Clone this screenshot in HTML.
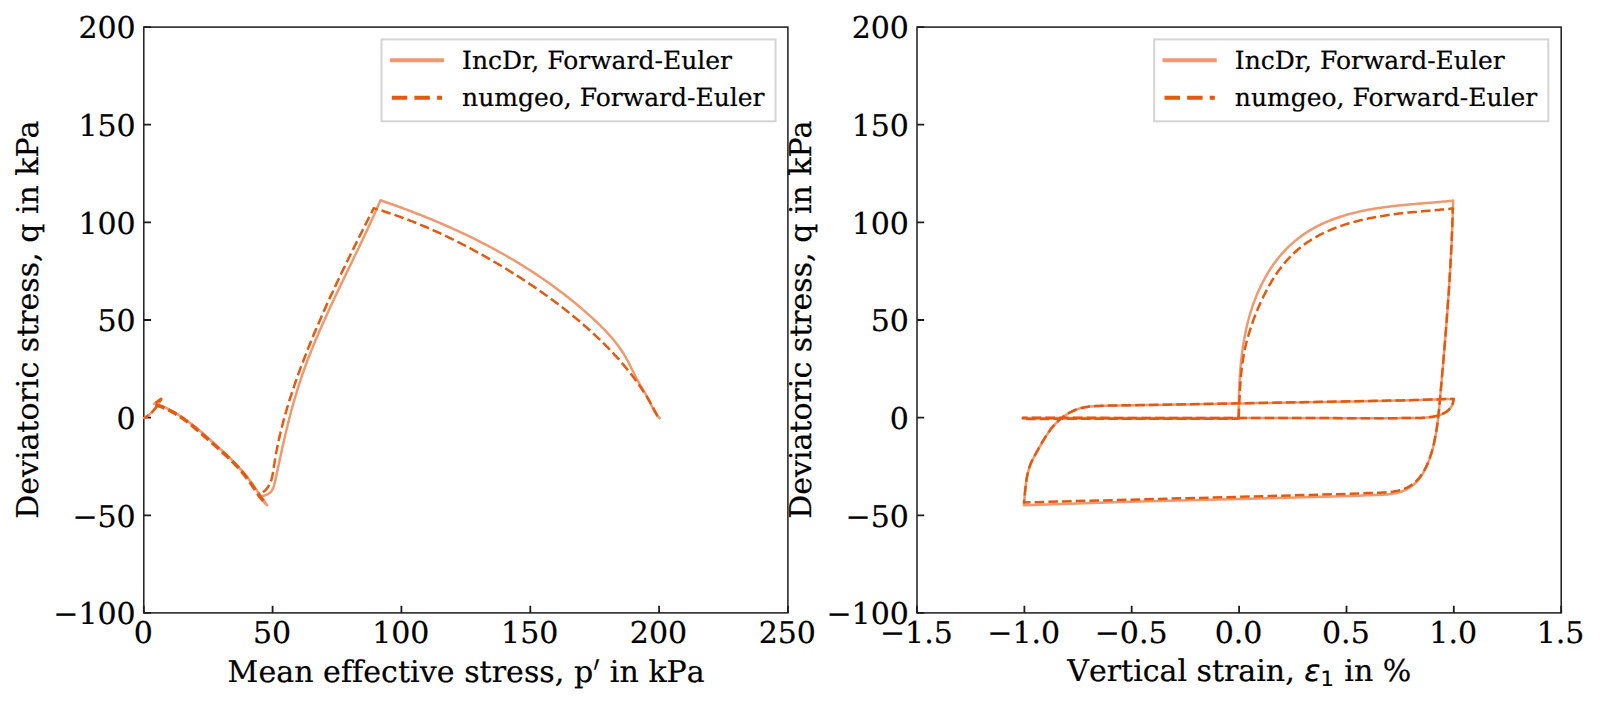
<!DOCTYPE html>
<html lang="en">
<head>
<meta charset="utf-8">
<title>Deviatoric stress plots</title>
<style>
html,body{margin:0;padding:0;background:#fff;}
body{width:1600px;height:705px;overflow:hidden;}
svg{display:block;}
text{stroke:#000;stroke-width:0.22px;font-kerning:normal;font-variant-ligatures:none;text-rendering:geometricPrecision;}
.nk{font-kerning:none;}
</style>
</head>
<body>
<svg width="1600" height="705" viewBox="0 0 1600 705" font-family="'DejaVu Serif','Liberation Serif',serif" font-size="30.0" fill="#000">
<rect width="1600" height="705" fill="#fff"/>
<rect x="143.8" y="27.1" width="644.1" height="585.8" fill="#fff" stroke="#1c1c1c" stroke-width="1.5"/>
<path d="M143.8 612.9v-7.2M272.6 612.9v-7.2M401.4 612.9v-7.2M530.3 612.9v-7.2M659.1 612.9v-7.2M787.9 612.9v-7.2M143.8 612.9h7.2M143.8 515.3h7.2M143.8 417.6h7.2M143.8 320.0h7.2M143.8 222.4h7.2M143.8 124.7h7.2M143.8 27.1h7.2" stroke="#1c1c1c" stroke-width="1.8" fill="none"/>
<text x="143.2" y="643.3" text-anchor="middle">0</text>
<text x="272.0" y="643.3" text-anchor="middle">50</text>
<text x="400.8" y="643.3" text-anchor="middle">100</text>
<text x="529.7" y="643.3" text-anchor="middle">150</text>
<text x="658.5" y="643.3" text-anchor="middle">200</text>
<text x="787.3" y="643.3" text-anchor="middle">250</text>
<text x="135.7" y="624.2" text-anchor="end">−100</text>
<text x="135.7" y="526.6" text-anchor="end">−50</text>
<text x="135.7" y="428.9" text-anchor="end">0</text>
<text x="135.7" y="331.3" text-anchor="end">50</text>
<text x="135.7" y="233.7" text-anchor="end">100</text>
<text x="135.7" y="136.0" text-anchor="end">150</text>
<text x="135.7" y="38.4" text-anchor="end">200</text>
<path d="M659.5 418.0 L658.4 417.0 L657.4 415.8 L656.5 414.7 L655.7 413.4 L654.9 412.2 L654.2 410.9 L653.5 409.5 L652.8 408.2 L652.1 406.8 L651.5 405.4 L650.9 404.1 L650.2 402.7 L649.6 401.3 L648.9 400.0 L648.2 398.6 L647.4 397.3 L646.7 396.0 L646.0 394.7 L645.2 393.4 L644.4 392.1 L643.7 390.8 L642.9 389.5 L642.1 388.2 L641.4 387.0 L640.6 385.7 L639.8 384.4 L639.1 383.0 L638.4 381.7 L637.6 380.4 L636.9 379.1 L636.2 377.7 L635.5 376.4 L634.8 375.0 L634.2 373.7 L633.5 372.3 L632.8 370.9 L632.1 369.6 L631.4 368.2 L630.8 366.8 L630.1 365.5 L629.4 364.1 L628.7 362.8 L628.0 361.4 L627.2 360.1 L626.5 358.8 L625.8 357.4 L625.0 356.1 L624.2 354.8 L623.5 353.5 L622.7 352.3 L621.8 351.0 L621.0 349.7 L620.1 348.5 L619.3 347.3 L618.4 346.1 L617.5 344.9 L616.6 343.7 L615.7 342.5 L614.7 341.3 L613.8 340.1 L612.8 339.0 L611.8 337.8 L610.8 336.7 L609.8 335.6 L608.8 334.4 L607.8 333.3 L606.8 332.2 L605.8 331.1 L604.7 330.0 L603.7 328.9 L602.6 327.9 L601.5 326.8 L600.5 325.7 L599.4 324.7 L598.3 323.6 L597.2 322.6 L596.1 321.5 L595.0 320.5 L593.9 319.5 L592.8 318.4 L591.7 317.4 L590.5 316.4 L589.4 315.4 L588.3 314.4 L587.2 313.4 L586.0 312.4 L584.9 311.4 L583.8 310.4 L582.6 309.4 L581.5 308.4 L580.3 307.4 L579.2 306.4 L578.0 305.5 L576.9 304.5 L575.7 303.5 L574.5 302.6 L573.4 301.6 L572.2 300.7 L571.0 299.7 L569.8 298.8 L568.7 297.8 L567.5 296.9 L566.3 296.0 L565.1 295.0 L563.9 294.1 L562.7 293.2 L561.5 292.3 L560.3 291.4 L559.1 290.5 L557.9 289.6 L556.7 288.7 L555.5 287.8 L554.3 286.9 L553.0 286.0 L551.8 285.1 L550.6 284.2 L549.4 283.3 L548.1 282.5 L546.9 281.6 L545.7 280.7 L544.4 279.9 L543.2 279.0 L542.0 278.2 L540.7 277.3 L539.5 276.5 L538.2 275.6 L537.0 274.8 L535.7 273.9 L534.4 273.1 L533.2 272.3 L531.9 271.5 L530.6 270.6 L529.4 269.8 L528.1 269.0 L526.8 268.2 L525.5 267.4 L524.3 266.6 L523.0 265.8 L521.7 265.0 L520.4 264.2 L519.1 263.4 L517.8 262.6 L516.5 261.8 L515.2 261.1 L514.0 260.3 L512.7 259.5 L511.3 258.8 L510.0 258.0 L508.7 257.2 L507.4 256.5 L506.1 255.7 L504.8 255.0 L503.5 254.2 L502.2 253.5 L500.9 252.8 L499.5 252.0 L498.2 251.3 L496.9 250.6 L495.6 249.8 L494.2 249.1 L492.9 248.4 L491.6 247.7 L490.2 247.0 L488.9 246.3 L487.6 245.5 L486.2 244.8 L484.9 244.1 L483.5 243.5 L482.2 242.8 L480.8 242.1 L479.5 241.4 L478.1 240.7 L476.8 240.0 L475.4 239.3 L474.1 238.7 L472.7 238.0 L471.4 237.3 L470.0 236.7 L468.6 236.0 L467.3 235.4 L465.9 234.7 L464.5 234.1 L463.2 233.4 L461.8 232.8 L460.4 232.1 L459.1 231.5 L457.7 230.8 L456.3 230.2 L454.9 229.6 L453.5 229.0 L452.2 228.3 L450.8 227.7 L449.4 227.1 L448.0 226.5 L446.6 225.9 L445.3 225.3 L443.9 224.7 L442.5 224.1 L441.1 223.5 L439.7 222.9 L438.3 222.3 L436.9 221.7 L435.5 221.1 L434.1 220.5 L432.7 219.9 L431.3 219.3 L429.9 218.8 L428.5 218.2 L427.1 217.6 L425.7 217.1 L424.3 216.5 L422.9 215.9 L421.5 215.4 L420.1 214.8 L418.7 214.3 L417.3 213.7 L415.9 213.2 L414.5 212.6 L413.1 212.1 L411.7 211.5 L410.3 211.0 L408.8 210.5 L407.4 209.9 L406.0 209.4 L404.6 208.9 L403.2 208.3 L401.8 207.8 L400.4 207.3 L398.9 206.8 L397.5 206.3 L396.1 205.8 L394.7 205.3 L393.3 204.7 L391.9 204.2 L390.4 203.7 L389.0 203.2 L387.6 202.7 L386.2 202.3 L384.8 201.8 L383.3 201.3 L381.9 200.8 L380.5 200.3 L379.9 201.7 L379.3 203.1 L378.7 204.4 L378.1 205.8 L377.5 207.2 L376.9 208.6 L376.3 210.0 L375.7 211.3 L375.1 212.7 L374.4 214.1 L373.8 215.5 L373.2 216.8 L372.6 218.2 L372.0 219.6 L371.3 220.9 L370.7 222.3 L370.1 223.7 L369.4 225.0 L368.8 226.4 L368.2 227.8 L367.5 229.2 L366.9 230.5 L366.3 231.9 L365.6 233.3 L365.0 234.6 L364.3 236.0 L363.7 237.4 L363.0 238.7 L362.4 240.1 L361.7 241.4 L361.1 242.8 L360.4 244.2 L359.8 245.5 L359.1 246.9 L358.5 248.3 L357.8 249.6 L357.2 251.0 L356.5 252.4 L355.9 253.7 L355.2 255.1 L354.5 256.4 L353.9 257.8 L353.2 259.2 L352.6 260.5 L351.9 261.9 L351.3 263.2 L350.6 264.6 L349.9 266.0 L349.3 267.3 L348.6 268.7 L348.0 270.1 L347.3 271.4 L346.6 272.8 L346.0 274.1 L345.3 275.5 L344.7 276.9 L344.0 278.2 L343.4 279.6 L342.7 281.0 L342.0 282.3 L341.4 283.7 L340.7 285.0 L340.1 286.4 L339.4 287.8 L338.8 289.1 L338.1 290.5 L337.5 291.9 L336.8 293.2 L336.2 294.6 L335.5 296.0 L334.9 297.3 L334.2 298.7 L333.6 300.1 L332.9 301.4 L332.3 302.8 L331.7 304.2 L331.0 305.5 L330.4 306.9 L329.8 308.3 L329.1 309.7 L328.5 311.0 L327.9 312.4 L327.2 313.8 L326.6 315.2 L326.0 316.5 L325.4 317.9 L324.7 319.3 L324.1 320.7 L323.5 322.0 L322.9 323.4 L322.3 324.8 L321.7 326.2 L321.1 327.6 L320.4 328.9 L319.8 330.3 L319.2 331.7 L318.6 333.1 L318.1 334.5 L317.5 335.9 L316.9 337.3 L316.3 338.6 L315.7 340.0 L315.1 341.4 L314.5 342.8 L314.0 344.2 L313.4 345.6 L312.8 347.0 L312.3 348.4 L311.7 349.8 L311.1 351.2 L310.6 352.6 L310.0 354.0 L309.5 355.4 L308.9 356.8 L308.4 358.2 L307.9 359.6 L307.3 361.0 L306.8 362.4 L306.3 363.8 L305.7 365.2 L305.2 366.7 L304.7 368.1 L304.2 369.5 L303.7 370.9 L303.2 372.3 L302.7 373.7 L302.2 375.2 L301.7 376.6 L301.2 378.0 L300.7 379.4 L300.3 380.9 L299.8 382.3 L299.3 383.7 L298.8 385.2 L298.4 386.6 L297.9 388.0 L297.5 389.5 L297.0 390.9 L296.6 392.3 L296.2 393.8 L295.7 395.2 L295.3 396.7 L294.9 398.1 L294.4 399.6 L294.0 401.0 L293.6 402.5 L293.2 403.9 L292.8 405.4 L292.4 406.8 L292.0 408.3 L291.6 409.7 L291.2 411.2 L290.8 412.7 L290.4 414.1 L290.1 415.6 L289.7 417.0 L289.3 418.5 L288.9 420.0 L288.6 421.4 L288.2 422.9 L287.8 424.4 L287.5 425.8 L287.1 427.3 L286.8 428.8 L286.4 430.2 L286.0 431.7 L285.7 433.2 L285.3 434.7 L285.0 436.1 L284.7 437.6 L284.3 439.1 L284.0 440.6 L283.6 442.0 L283.3 443.5 L283.0 445.0 L282.6 446.5 L282.3 447.9 L282.0 449.4 L281.7 450.9 L281.3 452.4 L281.0 453.9 L280.7 455.3 L280.4 456.8 L280.0 458.3 L279.7 459.8 L279.4 461.3 L279.1 462.7 L278.8 464.2 L278.4 465.7 L278.1 467.2 L277.8 468.7 L277.5 470.2 L277.2 471.6 L276.9 473.1 L276.6 474.6 L276.2 476.1 L275.9 477.6 L275.6 479.1 L275.3 480.5 L275.0 482.0 L274.6 483.5 L274.3 484.9 L273.8 486.3 L273.3 487.7 L272.8 488.9 L272.1 490.2 L271.3 491.3 L270.3 492.3 L269.3 493.3 L268.0 494.1 L266.6 494.8 L265.1 495.3 L263.4 495.7 L261.6 496.0 L261.9 497.5 L262.3 499.0 L263.0 500.4 L263.8 501.7 L264.7 503.0 L265.9 504.1 L267.2 505.2 L266.3 504.0 L265.4 502.7 L264.5 501.5 L263.6 500.3 L262.7 499.0 L261.9 497.8 L261.0 496.5 L260.1 495.2 L259.3 494.0 L258.4 492.7 L257.5 491.4 L256.7 490.1 L255.8 488.9 L254.9 487.6 L254.1 486.4 L253.2 485.1 L252.3 483.9 L251.4 482.6 L250.5 481.4 L249.6 480.2 L248.7 478.9 L247.7 477.7 L246.8 476.5 L245.9 475.4 L244.9 474.2 L243.9 473.0 L242.9 471.9 L241.9 470.7 L240.9 469.6 L239.9 468.5 L238.9 467.4 L237.9 466.2 L236.8 465.1 L235.8 464.0 L234.7 463.0 L233.7 461.9 L232.6 460.8 L231.5 459.7 L230.4 458.7 L229.3 457.6 L228.2 456.5 L227.2 455.5 L226.0 454.4 L224.9 453.4 L223.8 452.3 L222.7 451.3 L221.6 450.2 L220.5 449.2 L219.4 448.1 L218.2 447.1 L217.1 446.1 L216.0 445.0 L214.8 444.0 L213.7 442.9 L212.6 441.9 L211.4 440.9 L210.3 439.8 L209.1 438.8 L208.0 437.8 L206.8 436.8 L205.7 435.8 L204.5 434.7 L203.3 433.7 L202.2 432.7 L201.0 431.7 L199.8 430.7 L198.6 429.8 L197.5 428.8 L196.3 427.8 L195.1 426.8 L193.9 425.9 L192.7 424.9 L191.5 424.0 L190.2 423.1 L189.0 422.2 L187.8 421.2 L186.6 420.3 L185.3 419.5 L184.1 418.6 L182.8 417.7 L181.6 416.8 L180.3 416.0 L179.0 415.2 L177.7 414.4 L176.5 413.5 L175.2 412.8 L173.9 412.0 L172.6 411.2 L171.2 410.5 L169.9 409.8 L168.6 409.1 L167.2 408.4 L165.8 407.7 L164.5 407.1 L163.1 406.5 L161.7 406.0 L160.2 405.5 L158.8 405.0 L157.3 404.6 L155.9 404.2 L154.3 403.8 L161.4 398.6 L160.7 400.1 L159.9 401.5 L159.1 402.9 L158.2 404.3 L157.3 405.7 L156.4 407.0 L155.4 408.3 L154.3 409.6 L153.2 410.8 L152.1 412.0 L150.9 413.1 L149.7 414.2 L148.4 415.2 L147.1 416.2 L145.7 417.1 L144.3 417.9" fill="none" stroke="#ee996f" stroke-width="2.5" stroke-linejoin="round" stroke-linecap="square"/>
<path d="M657.5 416.2 L656.8 414.8 L656.2 413.5 L655.5 412.1 L654.8 410.8 L654.1 409.5 L653.4 408.1 L652.6 406.8 L651.9 405.5 L651.2 404.2 L650.4 402.9 L649.7 401.6 L648.9 400.3 L648.1 399.0 L647.4 397.7 L646.6 396.4 L645.8 395.1 L645.0 393.9 L644.2 392.6 L643.3 391.4 L642.5 390.1 L641.7 388.8 L640.9 387.6 L640.0 386.4 L639.2 385.1 L638.3 383.9 L637.4 382.7 L636.5 381.5 L635.7 380.2 L634.8 379.0 L633.9 377.8 L633.0 376.6 L632.1 375.4 L631.2 374.3 L630.2 373.1 L629.3 371.9 L628.4 370.7 L627.4 369.6 L626.5 368.4 L625.5 367.2 L624.6 366.1 L623.6 364.9 L622.6 363.8 L621.6 362.6 L620.7 361.5 L619.7 360.4 L618.7 359.2 L617.7 358.1 L616.7 357.0 L615.7 355.9 L614.6 354.8 L613.6 353.7 L612.6 352.6 L611.6 351.5 L610.5 350.4 L609.5 349.3 L608.4 348.2 L607.4 347.1 L606.3 346.1 L605.3 345.0 L604.2 343.9 L603.1 342.9 L602.1 341.8 L601.0 340.8 L599.9 339.7 L598.8 338.7 L597.7 337.6 L596.6 336.6 L595.5 335.6 L594.4 334.5 L593.3 333.5 L592.2 332.5 L591.1 331.5 L590.0 330.5 L588.9 329.5 L587.7 328.5 L586.6 327.4 L585.5 326.5 L584.3 325.5 L583.2 324.5 L582.0 323.5 L580.9 322.5 L579.8 321.5 L578.6 320.5 L577.4 319.6 L576.3 318.6 L575.1 317.6 L574.0 316.7 L572.8 315.7 L571.6 314.8 L570.5 313.8 L569.3 312.9 L568.1 311.9 L566.9 311.0 L565.7 310.1 L564.6 309.1 L563.4 308.2 L562.2 307.3 L561.0 306.3 L559.8 305.4 L558.6 304.5 L557.4 303.6 L556.2 302.7 L555.0 301.8 L553.8 300.9 L552.6 300.0 L551.3 299.1 L550.1 298.2 L548.9 297.3 L547.7 296.4 L546.5 295.5 L545.2 294.7 L544.0 293.8 L542.8 292.9 L541.5 292.0 L540.3 291.2 L539.1 290.3 L537.8 289.5 L536.6 288.6 L535.3 287.7 L534.1 286.9 L532.8 286.0 L531.6 285.2 L530.3 284.4 L529.1 283.5 L527.8 282.7 L526.6 281.8 L525.3 281.0 L524.1 280.2 L522.8 279.4 L521.5 278.5 L520.3 277.7 L519.0 276.9 L517.7 276.1 L516.4 275.3 L515.2 274.5 L513.9 273.7 L512.6 272.9 L511.3 272.1 L510.0 271.3 L508.8 270.5 L507.5 269.7 L506.2 268.9 L504.9 268.1 L503.6 267.3 L502.3 266.6 L501.0 265.8 L499.7 265.0 L498.4 264.2 L497.1 263.5 L495.8 262.7 L494.5 262.0 L493.2 261.2 L491.9 260.4 L490.6 259.7 L489.3 258.9 L488.0 258.2 L486.7 257.4 L485.4 256.7 L484.1 255.9 L482.8 255.2 L481.5 254.5 L480.1 253.7 L478.8 253.0 L477.5 252.3 L476.2 251.6 L474.9 250.8 L473.5 250.1 L472.2 249.4 L470.9 248.7 L469.6 248.0 L468.2 247.3 L466.9 246.6 L465.6 245.9 L464.2 245.2 L462.9 244.5 L461.6 243.8 L460.2 243.1 L458.9 242.4 L457.5 241.8 L456.2 241.1 L454.8 240.4 L453.5 239.7 L452.1 239.1 L450.8 238.4 L449.4 237.8 L448.1 237.1 L446.7 236.4 L445.4 235.8 L444.0 235.2 L442.6 234.5 L441.3 233.9 L439.9 233.2 L438.6 232.6 L437.2 232.0 L435.8 231.4 L434.4 230.8 L433.1 230.1 L431.7 229.5 L430.3 228.9 L428.9 228.3 L427.6 227.7 L426.2 227.1 L424.8 226.5 L423.4 226.0 L422.0 225.4 L420.6 224.8 L419.2 224.2 L417.8 223.7 L416.5 223.1 L415.1 222.5 L413.7 222.0 L412.3 221.4 L410.9 220.9 L409.4 220.3 L408.0 219.8 L406.6 219.2 L405.2 218.7 L403.8 218.2 L402.4 217.7 L401.0 217.2 L399.6 216.6 L398.1 216.1 L396.7 215.6 L395.3 215.1 L393.9 214.6 L392.4 214.1 L391.0 213.7 L389.6 213.2 L388.1 212.7 L386.7 212.2 L385.3 211.8 L383.8 211.3 L382.4 210.8 L381.0 210.4 L379.5 209.9 L378.1 209.5 L376.6 209.1 L375.2 208.6 L373.7 208.2 L373.0 209.5 L372.3 210.9 L371.7 212.2 L371.0 213.6 L370.3 214.9 L369.6 216.3 L368.9 217.6 L368.3 218.9 L367.6 220.3 L366.9 221.6 L366.2 223.0 L365.5 224.3 L364.9 225.7 L364.2 227.0 L363.5 228.4 L362.8 229.7 L362.2 231.1 L361.5 232.4 L360.8 233.8 L360.1 235.1 L359.4 236.5 L358.8 237.8 L358.1 239.2 L357.4 240.5 L356.8 241.9 L356.1 243.2 L355.4 244.6 L354.7 245.9 L354.1 247.3 L353.4 248.6 L352.7 250.0 L352.1 251.3 L351.4 252.7 L350.7 254.1 L350.1 255.4 L349.4 256.8 L348.7 258.1 L348.1 259.5 L347.4 260.8 L346.7 262.2 L346.1 263.6 L345.4 264.9 L344.8 266.3 L344.1 267.6 L343.4 269.0 L342.8 270.4 L342.1 271.7 L341.5 273.1 L340.8 274.5 L340.2 275.8 L339.5 277.2 L338.9 278.6 L338.2 279.9 L337.6 281.3 L336.9 282.7 L336.3 284.0 L335.7 285.4 L335.0 286.8 L334.4 288.1 L333.7 289.5 L333.1 290.9 L332.5 292.2 L331.8 293.6 L331.2 295.0 L330.6 296.4 L329.9 297.7 L329.3 299.1 L328.7 300.5 L328.0 301.9 L327.4 303.2 L326.8 304.6 L326.2 306.0 L325.6 307.4 L324.9 308.7 L324.3 310.1 L323.7 311.5 L323.1 312.9 L322.5 314.3 L321.9 315.7 L321.3 317.0 L320.7 318.4 L320.1 319.8 L319.5 321.2 L318.9 322.6 L318.3 324.0 L317.7 325.4 L317.1 326.7 L316.5 328.1 L315.9 329.5 L315.3 330.9 L314.7 332.3 L314.1 333.7 L313.6 335.1 L313.0 336.5 L312.4 337.9 L311.8 339.3 L311.3 340.7 L310.7 342.1 L310.1 343.5 L309.6 344.9 L309.0 346.3 L308.4 347.7 L307.9 349.1 L307.3 350.5 L306.8 351.9 L306.2 353.3 L305.7 354.7 L305.1 356.1 L304.6 357.5 L304.0 358.9 L303.5 360.3 L303.0 361.7 L302.4 363.1 L301.9 364.5 L301.4 365.9 L300.8 367.3 L300.3 368.7 L299.8 370.2 L299.3 371.6 L298.7 373.0 L298.2 374.4 L297.7 375.8 L297.2 377.2 L296.7 378.7 L296.2 380.1 L295.7 381.5 L295.2 382.9 L294.7 384.3 L294.2 385.8 L293.8 387.2 L293.3 388.6 L292.8 390.0 L292.3 391.5 L291.8 392.9 L291.4 394.3 L290.9 395.8 L290.5 397.2 L290.0 398.6 L289.5 400.1 L289.1 401.5 L288.7 403.0 L288.2 404.4 L287.8 405.8 L287.3 407.3 L286.9 408.7 L286.5 410.2 L286.1 411.6 L285.6 413.1 L285.2 414.5 L284.8 416.0 L284.4 417.4 L284.0 418.9 L283.6 420.3 L283.2 421.8 L282.9 423.3 L282.5 424.7 L282.1 426.2 L281.7 427.6 L281.4 429.1 L281.0 430.6 L280.6 432.0 L280.3 433.5 L279.9 435.0 L279.6 436.5 L279.3 437.9 L278.9 439.4 L278.6 440.9 L278.3 442.4 L278.0 443.9 L277.7 445.4 L277.3 446.9 L277.0 448.4 L276.8 449.8 L276.5 451.3 L276.2 452.8 L275.9 454.3 L275.6 455.8 L275.4 457.3 L275.1 458.9 L274.9 460.4 L274.6 461.9 L274.4 463.4 L274.1 464.9 L273.9 466.4 L273.7 467.9 L273.5 469.5 L273.2 471.0 L273.0 472.5 L272.7 474.0 L272.4 475.4 L272.1 476.9 L271.8 478.3 L271.4 479.7 L270.9 481.1 L270.4 482.4 L269.9 483.8 L269.2 485.0 L268.5 486.2 L267.8 487.4 L266.9 488.5 L266.0 489.6 L264.9 490.6 L263.8 491.5 L262.5 492.3 L261.1 493.1 L259.6 493.7 L258.0 494.3" fill="none" stroke="#e15a10" stroke-width="2.5" stroke-linejoin="round" stroke-dasharray="9.6 4.1" stroke-dashoffset="0.0"/>
<path d="M258.0 494.3 L264.6 502.6 L263.7 501.4 L262.8 500.2 L261.8 499.0 L260.9 497.8 L260.1 496.5 L259.2 495.3 L258.3 494.1 L257.4 492.8 L256.5 491.6 L255.7 490.3 L254.8 489.1 L253.9 487.8 L253.0 486.6 L252.2 485.3 L251.3 484.1 L250.4 482.8 L249.5 481.6 L248.6 480.3 L247.7 479.1 L246.8 477.9 L245.9 476.7 L244.9 475.5 L244.0 474.3 L243.0 473.1 L242.1 471.9 L241.1 470.8 L240.1 469.7 L239.1 468.5 L238.1 467.4 L237.1 466.3 L236.0 465.2 L235.0 464.1 L233.9 463.0 L232.9 462.0 L231.8 460.9 L230.7 459.8 L229.7 458.8 L228.6 457.7 L227.5 456.7 L226.4 455.7 L225.2 454.6 L224.1 453.6 L223.0 452.6 L221.9 451.6 L220.8 450.6 L219.6 449.6 L218.5 448.5 L217.3 447.5 L216.2 446.5 L215.1 445.5 L213.9 444.5 L212.8 443.5 L211.6 442.5 L210.5 441.5 L209.3 440.5 L208.2 439.5 L207.0 438.4 L205.9 437.4 L204.7 436.4 L203.6 435.4 L202.4 434.4 L201.2 433.3 L200.1 432.3 L198.9 431.3 L197.8 430.3 L196.6 429.3 L195.4 428.3 L194.2 427.3 L193.1 426.4 L191.9 425.4 L190.7 424.4 L189.5 423.5 L188.3 422.5 L187.1 421.6 L185.9 420.7 L184.7 419.8 L183.4 418.9 L182.2 418.0 L180.9 417.2 L179.7 416.3 L178.4 415.5 L177.2 414.7 L175.9 413.9 L174.6 413.1 L173.3 412.4 L172.0 411.7 L170.6 410.9 L169.3 410.3 L168.0 409.6 L166.6 409.0 L165.2 408.4 L163.8 407.8 L162.4 407.2 L161.0 406.7 L159.6 406.2 L158.2 405.7 L156.7 405.2 L155.2 404.8 L153.8 404.4" fill="none" stroke="#e15a10" stroke-width="3.5" stroke-linejoin="round" stroke-dasharray="9.6 4.1" stroke-dashoffset="672.3"/>
<path d="M153.8 404.4 L161.0 399.0 L160.3 400.4 L159.5 401.9 L158.8 403.2 L157.9 404.6 L157.0 406.0 L156.1 407.3 L155.1 408.6 L154.1 409.8 L153.1 411.0 L152.0 412.1 L150.8 413.2 L149.6 414.3 L148.4 415.3 L147.1 416.2 L145.7 417.1 L144.3 417.9" fill="none" stroke="#e15a10" stroke-width="2.5" stroke-linejoin="round" stroke-dasharray="9.6 4.1" stroke-dashoffset="833.4"/>
<rect x="381.5" y="39.4" width="394.1" height="81.9" fill="#fff" fill-opacity="0.8" stroke="#d4d4d4" stroke-width="2"/>
<path d="M391.8 60.3H442.1" stroke="#ee996f" stroke-width="3.9" stroke-linecap="square" fill="none"/>
<path d="M391.8 97.8H442.1" stroke="#e15a10" stroke-width="3.9" stroke-dasharray="15.5 7.1" fill="none"/>
<text x="462.1" y="69.2" font-size="25.00">IncDr, Forward-Euler</text>
<text x="462.1" y="106.4" font-size="25.00">numgeo, Forward-Euler</text>
<text x="593.3" y="682.2" text-anchor="end" class="nk" letter-spacing="0.06">Mean effective stress, p</text>
<text transform="translate(592.4 692.6) scale(0.9 1.5)" font-family="'DejaVu Math TeX Gyre','DejaVu Serif','Liberation Serif',serif" x="0" y="0">′</text>
<text x="609.75" y="682.2" class="nk" letter-spacing="0.06">in kPa</text>
<text transform="translate(38.2 319.8) rotate(-90)" text-anchor="middle">Deviatoric stress, q in kPa</text>
<rect x="917.0" y="27.1" width="644.2" height="585.8" fill="#fff" stroke="#1c1c1c" stroke-width="1.5"/>
<path d="M917.0 612.9v-7.2M1024.4 612.9v-7.2M1131.7 612.9v-7.2M1239.1 612.9v-7.2M1346.5 612.9v-7.2M1453.8 612.9v-7.2M1561.2 612.9v-7.2M917.0 612.9h7.2M917.0 515.3h7.2M917.0 417.6h7.2M917.0 320.0h7.2M917.0 222.4h7.2M917.0 124.7h7.2M917.0 27.1h7.2" stroke="#1c1c1c" stroke-width="1.8" fill="none"/>
<text x="916.4" y="643.3" text-anchor="middle">−1.5</text>
<text x="1023.8" y="643.3" text-anchor="middle">−1.0</text>
<text x="1131.1" y="643.3" text-anchor="middle">−0.5</text>
<text x="1238.5" y="643.3" text-anchor="middle">0.0</text>
<text x="1345.9" y="643.3" text-anchor="middle">0.5</text>
<text x="1453.2" y="643.3" text-anchor="middle">1.0</text>
<text x="1560.6" y="643.3" text-anchor="middle">1.5</text>
<text x="908.9" y="624.2" text-anchor="end">−100</text>
<text x="908.9" y="526.6" text-anchor="end">−50</text>
<text x="908.9" y="428.9" text-anchor="end">0</text>
<text x="908.9" y="331.3" text-anchor="end">50</text>
<text x="908.9" y="233.7" text-anchor="end">100</text>
<text x="908.9" y="136.0" text-anchor="end">150</text>
<text x="908.9" y="38.4" text-anchor="end">200</text>
<path d="M1238.6 418.2 L1238.6 416.7 L1238.6 415.2 L1238.6 413.7 L1238.7 412.2 L1238.7 410.7 L1238.7 409.2 L1238.7 407.7 L1238.7 406.2 L1238.8 404.7 L1238.8 403.2 L1238.8 401.7 L1238.9 400.1 L1238.9 398.6 L1238.9 397.1 L1239.0 395.6 L1239.0 394.1 L1239.1 392.6 L1239.1 391.1 L1239.2 389.6 L1239.2 388.1 L1239.3 386.5 L1239.4 385.0 L1239.4 383.5 L1239.5 382.0 L1239.6 380.5 L1239.7 379.0 L1239.8 377.5 L1239.9 375.9 L1240.0 374.4 L1240.1 372.9 L1240.2 371.4 L1240.3 369.9 L1240.4 368.4 L1240.6 366.9 L1240.7 365.4 L1240.8 363.9 L1241.0 362.4 L1241.1 360.8 L1241.3 359.3 L1241.5 357.8 L1241.7 356.3 L1241.8 354.8 L1242.0 353.3 L1242.2 351.8 L1242.4 350.3 L1242.6 348.8 L1242.8 347.3 L1243.1 345.8 L1243.3 344.3 L1243.5 342.9 L1243.8 341.4 L1244.0 339.9 L1244.3 338.4 L1244.6 336.9 L1244.9 335.4 L1245.2 333.9 L1245.5 332.5 L1245.8 331.0 L1246.1 329.5 L1246.4 328.0 L1246.7 326.6 L1247.1 325.1 L1247.4 323.6 L1247.8 322.2 L1248.2 320.7 L1248.6 319.2 L1249.0 317.8 L1249.4 316.3 L1249.8 314.9 L1250.2 313.4 L1250.7 312.0 L1251.1 310.6 L1251.6 309.1 L1252.0 307.7 L1252.5 306.2 L1253.0 304.8 L1253.5 303.4 L1254.0 302.0 L1254.6 300.5 L1255.1 299.1 L1255.7 297.7 L1256.2 296.3 L1256.8 294.9 L1257.4 293.5 L1258.0 292.1 L1258.6 290.7 L1259.2 289.3 L1259.9 288.0 L1260.5 286.6 L1261.2 285.2 L1261.9 283.8 L1262.6 282.5 L1263.3 281.1 L1264.0 279.8 L1264.7 278.5 L1265.4 277.1 L1266.2 275.8 L1267.0 274.5 L1267.7 273.2 L1268.5 271.9 L1269.3 270.6 L1270.1 269.3 L1271.0 268.1 L1271.8 266.8 L1272.7 265.6 L1273.5 264.3 L1274.4 263.1 L1275.3 261.9 L1276.2 260.7 L1277.1 259.5 L1278.1 258.3 L1279.0 257.1 L1280.0 256.0 L1281.0 254.8 L1281.9 253.7 L1282.9 252.6 L1284.0 251.5 L1285.0 250.4 L1286.0 249.3 L1287.1 248.2 L1288.2 247.2 L1289.2 246.1 L1290.3 245.1 L1291.4 244.1 L1292.6 243.1 L1293.7 242.1 L1294.8 241.1 L1296.0 240.2 L1297.2 239.2 L1298.3 238.3 L1299.5 237.4 L1300.7 236.5 L1301.9 235.6 L1303.2 234.7 L1304.4 233.9 L1305.7 233.0 L1306.9 232.2 L1308.2 231.4 L1309.5 230.6 L1310.8 229.9 L1312.0 229.1 L1313.4 228.4 L1314.7 227.6 L1316.0 226.9 L1317.3 226.2 L1318.7 225.5 L1320.0 224.9 L1321.4 224.2 L1322.7 223.6 L1324.1 223.0 L1325.5 222.3 L1326.9 221.8 L1328.3 221.2 L1329.7 220.6 L1331.1 220.0 L1332.5 219.5 L1333.9 219.0 L1335.3 218.5 L1336.7 217.9 L1338.2 217.5 L1339.6 217.0 L1341.0 216.5 L1342.5 216.1 L1343.9 215.6 L1345.4 215.2 L1346.8 214.8 L1348.3 214.3 L1349.7 213.9 L1351.2 213.6 L1352.7 213.2 L1354.1 212.8 L1355.6 212.5 L1357.1 212.1 L1358.5 211.8 L1360.0 211.4 L1361.5 211.1 L1363.0 210.8 L1364.5 210.5 L1366.0 210.2 L1367.4 209.9 L1368.9 209.6 L1370.4 209.4 L1371.9 209.1 L1373.4 208.9 L1374.9 208.6 L1376.4 208.4 L1377.9 208.1 L1379.4 207.9 L1380.9 207.7 L1382.4 207.5 L1383.9 207.3 L1385.4 207.1 L1387.0 206.9 L1388.5 206.7 L1390.0 206.5 L1391.5 206.3 L1393.0 206.1 L1394.5 206.0 L1396.0 205.8 L1397.5 205.6 L1399.1 205.5 L1400.6 205.3 L1402.1 205.2 L1403.6 205.0 L1405.1 204.9 L1406.6 204.7 L1408.2 204.6 L1409.7 204.5 L1411.2 204.3 L1412.7 204.2 L1414.2 204.1 L1415.7 203.9 L1417.3 203.8 L1418.8 203.7 L1420.3 203.5 L1421.8 203.4 L1423.3 203.3 L1424.8 203.2 L1426.3 203.0 L1427.8 202.9 L1429.3 202.8 L1430.8 202.7 L1432.3 202.6 L1433.8 202.4 L1435.3 202.3 L1436.8 202.2 L1438.3 202.0 L1439.8 201.9 L1441.3 201.8 L1442.8 201.6 L1444.3 201.5 L1445.8 201.4 L1447.3 201.2 L1448.8 201.1 L1450.2 200.9 L1451.7 200.8 L1453.2 200.6 L1453.2 202.1 L1453.1 203.6 L1453.1 205.1 L1453.0 206.6 L1453.0 208.1 L1452.9 209.6 L1452.9 211.1 L1452.8 212.7 L1452.8 214.2 L1452.7 215.7 L1452.7 217.2 L1452.6 218.7 L1452.6 220.2 L1452.5 221.7 L1452.5 223.2 L1452.4 224.7 L1452.4 226.2 L1452.3 227.7 L1452.2 229.2 L1452.2 230.8 L1452.1 232.3 L1452.0 233.8 L1452.0 235.3 L1451.9 236.8 L1451.8 238.3 L1451.8 239.8 L1451.7 241.3 L1451.6 242.8 L1451.6 244.3 L1451.5 245.9 L1451.4 247.4 L1451.3 248.9 L1451.2 250.4 L1451.2 251.9 L1451.1 253.4 L1451.0 254.9 L1450.9 256.4 L1450.8 258.0 L1450.8 259.5 L1450.7 261.0 L1450.6 262.5 L1450.5 264.0 L1450.4 265.5 L1450.3 267.0 L1450.2 268.5 L1450.1 270.1 L1450.1 271.6 L1450.0 273.1 L1449.9 274.6 L1449.8 276.1 L1449.7 277.6 L1449.6 279.1 L1449.5 280.6 L1449.4 282.2 L1449.3 283.7 L1449.2 285.2 L1449.1 286.7 L1449.0 288.2 L1448.9 289.7 L1448.8 291.2 L1448.7 292.7 L1448.6 294.3 L1448.5 295.8 L1448.4 297.3 L1448.3 298.8 L1448.2 300.3 L1448.1 301.8 L1447.9 303.3 L1447.8 304.8 L1447.7 306.4 L1447.6 307.9 L1447.5 309.4 L1447.4 310.9 L1447.3 312.4 L1447.2 313.9 L1447.0 315.4 L1446.9 316.9 L1446.8 318.4 L1446.7 320.0 L1446.6 321.5 L1446.5 323.0 L1446.4 324.5 L1446.2 326.0 L1446.1 327.5 L1446.0 329.0 L1445.9 330.5 L1445.8 332.0 L1445.6 333.6 L1445.5 335.1 L1445.4 336.6 L1445.3 338.1 L1445.1 339.6 L1445.0 341.1 L1444.9 342.6 L1444.8 344.1 L1444.7 345.6 L1444.5 347.1 L1444.4 348.6 L1444.3 350.1 L1444.1 351.7 L1444.0 353.2 L1443.9 354.7 L1443.8 356.2 L1443.6 357.7 L1443.5 359.2 L1443.4 360.7 L1443.2 362.2 L1443.1 363.7 L1443.0 365.2 L1442.9 366.7 L1442.7 368.2 L1442.6 369.7 L1442.5 371.2 L1442.3 372.7 L1442.2 374.2 L1442.1 375.7 L1441.9 377.2 L1441.8 378.7 L1441.7 380.2 L1441.5 381.7 L1441.4 383.2 L1441.3 384.8 L1441.1 386.3 L1441.0 387.8 L1440.9 389.3 L1440.7 390.8 L1440.6 392.3 L1440.5 393.7 L1440.3 395.2 L1440.2 396.7 L1440.1 398.2 L1439.9 399.7 L1439.8 401.2 L1439.7 402.7 L1439.5 404.2 L1439.4 405.7 L1439.2 407.2 L1439.1 408.7 L1439.0 410.2 L1438.8 411.7 L1438.7 413.2 L1438.5 414.7 L1438.3 416.2 L1438.2 417.7 L1438.0 419.2 L1437.8 420.7 L1437.6 422.2 L1437.4 423.7 L1437.2 425.2 L1437.0 426.6 L1436.8 428.1 L1436.6 429.6 L1436.3 431.1 L1436.1 432.6 L1435.8 434.1 L1435.6 435.6 L1435.3 437.1 L1435.0 438.6 L1434.7 440.1 L1434.4 441.6 L1434.0 443.1 L1433.7 444.6 L1433.3 446.1 L1433.0 447.6 L1432.6 449.1 L1432.2 450.6 L1431.7 452.1 L1431.3 453.6 L1430.8 455.0 L1430.4 456.5 L1429.9 458.0 L1429.4 459.5 L1428.8 460.9 L1428.3 462.3 L1427.7 463.8 L1427.1 465.2 L1426.5 466.6 L1425.8 468.0 L1425.1 469.3 L1424.4 470.6 L1423.7 472.0 L1423.0 473.2 L1422.2 474.5 L1421.4 475.7 L1420.5 477.0 L1419.6 478.1 L1418.7 479.3 L1417.8 480.4 L1416.8 481.5 L1415.8 482.5 L1414.8 483.5 L1413.7 484.5 L1412.6 485.4 L1411.5 486.3 L1410.3 487.1 L1409.1 487.9 L1407.8 488.7 L1406.5 489.4 L1405.2 490.0 L1403.8 490.6 L1402.4 491.2 L1401.0 491.7 L1399.5 492.2 L1398.0 492.6 L1396.5 493.0 L1395.0 493.3 L1393.4 493.6 L1391.8 493.9 L1390.3 494.1 L1388.7 494.3 L1387.1 494.5 L1385.6 494.6 L1384.0 494.8 L1382.5 494.8 L1380.9 494.9 L1379.4 495.0 L1377.9 495.0 L1376.3 495.1 L1374.8 495.1 L1373.3 495.1 L1371.8 495.2 L1370.3 495.2 L1368.8 495.2 L1367.4 495.3 L1365.9 495.3 L1364.4 495.4 L1362.9 495.5 L1361.5 495.6 L1360.0 495.7 L1269.0 498.2 L1130.0 501.8 L1023.9 505.2 L1024.1 503.7 L1024.2 502.2 L1024.3 500.7 L1024.5 499.2 L1024.6 497.7 L1024.7 496.2 L1024.8 494.6 L1025.0 493.1 L1025.1 491.6 L1025.3 490.1 L1025.4 488.5 L1025.6 487.0 L1025.7 485.5 L1025.9 484.0 L1026.1 482.5 L1026.3 481.0 L1026.6 479.5 L1026.8 478.0 L1027.1 476.5 L1027.4 475.0 L1027.7 473.5 L1028.1 472.0 L1028.5 470.6 L1028.9 469.1 L1029.3 467.7 L1029.8 466.3 L1030.3 464.9 L1030.9 463.5 L1031.5 462.1 L1032.1 460.7 L1032.8 459.4 L1033.5 458.0 L1034.2 456.7 L1034.9 455.4 L1035.6 454.1 L1036.4 452.7 L1037.1 451.4 L1037.9 450.1 L1038.6 448.8 L1039.3 447.5 L1040.1 446.1 L1040.8 444.8 L1041.6 443.5 L1042.4 442.2 L1043.1 440.9 L1043.9 439.5 L1044.7 438.2 L1045.5 437.0 L1046.3 435.7 L1047.1 434.4 L1048.0 433.1 L1048.9 431.9 L1049.8 430.7 L1050.7 429.4 L1051.6 428.2 L1052.6 427.1 L1053.6 425.9 L1054.6 424.8 L1055.6 423.7 L1056.7 422.6 L1057.8 421.5 L1058.9 420.5 L1060.0 419.5 L1061.2 418.5 L1062.4 417.5 L1063.6 416.6 L1064.8 415.7 L1066.1 414.9 L1067.3 414.1 L1068.6 413.3 L1069.9 412.5 L1071.3 411.8 L1072.6 411.2 L1074.0 410.6 L1075.4 410.0 L1076.8 409.4 L1078.2 408.9 L1079.7 408.5 L1081.2 408.1 L1082.6 407.8 L1084.1 407.4 L1085.6 407.2 L1087.2 406.9 L1088.7 406.7 L1090.2 406.6 L1091.8 406.4 L1093.3 406.3 L1094.8 406.2 L1096.4 406.1 L1097.9 406.0 L1099.5 406.0 L1101.0 405.9 L1102.5 405.9 L1104.0 405.8 L1105.6 405.8 L1107.1 405.7 L1108.5 405.7 L1110.0 405.6 L1111.5 405.6 L1113.0 405.6 L1114.5 405.5 L1116.0 405.5 L1117.5 405.5 L1119.0 405.5 L1120.6 405.5 L1122.1 405.5 L1123.6 405.4 L1125.1 405.4 L1126.6 405.4 L1128.1 405.4 L1129.6 405.3 L1131.1 405.3 L1132.6 405.3 L1134.1 405.3 L1135.6 405.3 L1137.1 405.2 L1138.7 405.2 L1140.2 405.2 L1141.7 405.2 L1143.2 405.2 L1144.7 405.1 L1146.2 405.1 L1147.7 405.1 L1149.2 405.1 L1150.7 405.0 L1152.2 405.0 L1153.7 405.0 L1155.2 405.0 L1156.7 404.9 L1158.3 404.9 L1159.8 404.9 L1161.3 404.9 L1162.8 404.8 L1164.3 404.8 L1165.8 404.8 L1167.3 404.8 L1168.8 404.7 L1170.3 404.7 L1171.8 404.7 L1173.3 404.7 L1174.8 404.6 L1176.4 404.6 L1177.9 404.6 L1179.4 404.6 L1180.9 404.5 L1182.4 404.5 L1183.9 404.5 L1185.4 404.4 L1186.9 404.4 L1188.4 404.4 L1189.9 404.4 L1191.4 404.3 L1192.9 404.3 L1194.4 404.3 L1196.0 404.3 L1197.5 404.2 L1199.0 404.2 L1200.5 404.2 L1202.0 404.1 L1203.5 404.1 L1205.0 404.1 L1206.5 404.1 L1208.0 404.0 L1209.5 404.0 L1211.0 404.0 L1212.5 403.9 L1214.1 403.9 L1215.6 403.9 L1217.1 403.9 L1218.6 403.8 L1220.1 403.8 L1221.6 403.8 L1223.1 403.7 L1224.6 403.7 L1226.1 403.7 L1227.6 403.7 L1229.1 403.6 L1230.6 403.6 L1232.1 403.6 L1233.7 403.6 L1235.2 403.5 L1236.7 403.5 L1238.2 403.5 L1239.7 403.4 L1241.2 403.4 L1242.7 403.4 L1244.2 403.4 L1245.7 403.3 L1247.2 403.3 L1248.7 403.3 L1250.2 403.2 L1251.8 403.2 L1253.3 403.2 L1254.8 403.2 L1256.3 403.1 L1257.8 403.1 L1259.3 403.1 L1260.8 403.1 L1262.3 403.0 L1263.8 403.0 L1265.3 403.0 L1266.8 403.0 L1268.3 402.9 L1269.8 402.9 L1271.4 402.9 L1272.9 402.9 L1274.4 402.8 L1275.9 402.8 L1277.4 402.8 L1278.9 402.8 L1280.4 402.7 L1281.9 402.7 L1283.4 402.7 L1284.9 402.7 L1286.4 402.6 L1287.9 402.6 L1289.5 402.6 L1291.0 402.6 L1292.5 402.5 L1294.0 402.5 L1295.5 402.5 L1297.0 402.5 L1298.5 402.4 L1300.0 402.4 L1301.5 402.4 L1303.0 402.4 L1304.5 402.3 L1306.0 402.3 L1307.5 402.3 L1309.1 402.3 L1310.6 402.2 L1312.1 402.2 L1313.6 402.2 L1315.1 402.2 L1316.6 402.1 L1318.1 402.1 L1319.6 402.1 L1321.1 402.1 L1322.6 402.0 L1324.1 402.0 L1325.6 402.0 L1327.2 402.0 L1328.7 401.9 L1330.2 401.9 L1331.7 401.9 L1333.2 401.9 L1334.7 401.8 L1336.2 401.8 L1337.7 401.8 L1339.2 401.8 L1340.7 401.7 L1342.2 401.7 L1343.7 401.7 L1345.2 401.7 L1346.8 401.6 L1348.3 401.6 L1349.8 401.6 L1351.3 401.5 L1352.8 401.5 L1354.3 401.5 L1355.8 401.5 L1357.3 401.4 L1358.8 401.4 L1360.3 401.4 L1361.8 401.3 L1363.3 401.3 L1364.9 401.3 L1366.4 401.3 L1367.9 401.2 L1369.4 401.2 L1370.9 401.2 L1372.4 401.1 L1373.9 401.1 L1375.4 401.1 L1376.9 401.0 L1378.4 401.0 L1379.9 401.0 L1381.4 400.9 L1382.9 400.9 L1384.5 400.9 L1386.0 400.8 L1387.5 400.8 L1389.0 400.8 L1390.5 400.7 L1392.0 400.7 L1393.5 400.7 L1395.0 400.6 L1396.5 400.6 L1398.0 400.5 L1399.5 400.5 L1401.0 400.5 L1402.5 400.4 L1404.1 400.4 L1405.6 400.4 L1407.1 400.3 L1408.6 400.3 L1410.1 400.2 L1411.6 400.2 L1413.1 400.1 L1414.6 400.1 L1416.1 400.1 L1417.6 400.0 L1419.1 400.0 L1420.6 399.9 L1422.1 399.9 L1423.7 399.8 L1425.2 399.8 L1426.7 399.7 L1428.2 399.7 L1429.7 399.7 L1431.2 399.6 L1432.7 399.6 L1434.2 399.5 L1435.7 399.5 L1437.2 399.4 L1438.7 399.4 L1440.2 399.3 L1441.7 399.2 L1443.2 399.2 L1444.8 399.1 L1446.3 399.1 L1447.8 399.0 L1449.3 399.0 L1450.8 398.9 L1452.3 398.9 L1453.8 398.8 L1453.6 400.5 L1453.3 402.1 L1452.8 403.7 L1452.2 405.1 L1451.5 406.4 L1450.7 407.6 L1449.8 408.7 L1448.8 409.8 L1447.8 410.8 L1446.6 411.6 L1445.4 412.4 L1444.1 413.2 L1442.8 413.8 L1441.4 414.4 L1439.9 415.0 L1438.5 415.5 L1437.0 415.9 L1435.5 416.3 L1433.9 416.6 L1432.4 416.9 L1430.8 417.1 L1429.2 417.3 L1427.7 417.5 L1426.1 417.6 L1424.5 417.7 L1422.9 417.8 L1421.3 417.9 L1419.7 417.9 L1418.1 418.0 L1416.5 418.0 L1414.9 418.0 L1413.3 418.0 L1411.7 417.9 L1410.1 417.9 L1408.6 417.9 L1407.1 417.9 L1405.5 417.9 L1404.0 417.9 L1402.6 418.0 L1401.1 418.0 L1399.7 418.1 L1398.3 418.2 L1238.6 418.1 L1022.9 418.0 L1022.9 418.8 L1238.6 418.7" fill="none" stroke="#ee996f" stroke-width="2.5" stroke-linejoin="round" stroke-linecap="square"/>
<path d="M1238.6 418.2 L1238.7 416.7 L1238.7 415.2 L1238.8 413.7 L1238.9 412.2 L1239.0 410.7 L1239.0 409.2 L1239.1 407.7 L1239.2 406.2 L1239.2 404.7 L1239.3 403.2 L1239.4 401.6 L1239.4 400.1 L1239.5 398.6 L1239.6 397.1 L1239.7 395.6 L1239.7 394.1 L1239.8 392.6 L1239.9 391.1 L1240.0 389.5 L1240.1 388.0 L1240.2 386.5 L1240.3 385.0 L1240.4 383.5 L1240.5 382.0 L1240.6 380.5 L1240.7 379.0 L1240.9 377.5 L1241.0 376.0 L1241.1 374.4 L1241.3 372.9 L1241.4 371.4 L1241.6 369.9 L1241.8 368.4 L1242.0 366.9 L1242.1 365.4 L1242.3 363.9 L1242.5 362.5 L1242.8 361.0 L1243.0 359.5 L1243.2 358.0 L1243.5 356.5 L1243.7 355.0 L1244.0 353.6 L1244.3 352.1 L1244.6 350.6 L1244.9 349.1 L1245.2 347.7 L1245.5 346.2 L1245.9 344.7 L1246.2 343.3 L1246.6 341.8 L1247.0 340.4 L1247.4 338.9 L1247.7 337.5 L1248.2 336.1 L1248.6 334.6 L1249.0 333.2 L1249.5 331.7 L1249.9 330.3 L1250.4 328.9 L1250.8 327.5 L1251.3 326.0 L1251.8 324.6 L1252.3 323.2 L1252.8 321.8 L1253.3 320.4 L1253.8 318.9 L1254.4 317.5 L1254.9 316.1 L1255.5 314.7 L1256.0 313.3 L1256.6 311.9 L1257.2 310.5 L1257.7 309.1 L1258.3 307.7 L1258.9 306.3 L1259.5 304.9 L1260.1 303.6 L1260.8 302.2 L1261.4 300.8 L1262.0 299.4 L1262.7 298.0 L1263.3 296.7 L1264.0 295.3 L1264.7 294.0 L1265.4 292.6 L1266.1 291.3 L1266.8 289.9 L1267.5 288.6 L1268.2 287.3 L1269.0 285.9 L1269.7 284.6 L1270.5 283.3 L1271.2 282.0 L1272.0 280.7 L1272.8 279.4 L1273.6 278.1 L1274.4 276.9 L1275.3 275.6 L1276.1 274.3 L1277.0 273.1 L1277.8 271.8 L1278.7 270.6 L1279.6 269.4 L1280.5 268.2 L1281.4 267.0 L1282.4 265.8 L1283.3 264.6 L1284.3 263.4 L1285.2 262.3 L1286.2 261.1 L1287.2 260.0 L1288.2 258.9 L1289.3 257.8 L1290.3 256.7 L1291.3 255.6 L1292.4 254.6 L1293.5 253.5 L1294.6 252.5 L1295.7 251.5 L1296.8 250.5 L1297.9 249.5 L1299.1 248.6 L1300.2 247.6 L1301.4 246.7 L1302.6 245.8 L1303.7 244.9 L1304.9 244.0 L1306.2 243.1 L1307.4 242.3 L1308.6 241.5 L1309.9 240.7 L1311.1 239.9 L1312.4 239.1 L1313.7 238.3 L1315.0 237.6 L1316.3 236.8 L1317.6 236.1 L1318.9 235.4 L1320.2 234.7 L1321.6 234.0 L1322.9 233.3 L1324.3 232.7 L1325.6 232.0 L1327.0 231.4 L1328.4 230.8 L1329.8 230.2 L1331.2 229.6 L1332.6 229.0 L1334.0 228.5 L1335.4 227.9 L1336.8 227.4 L1338.2 226.9 L1339.7 226.4 L1341.1 225.9 L1342.5 225.4 L1344.0 224.9 L1345.4 224.4 L1346.9 224.0 L1348.3 223.5 L1349.8 223.1 L1351.3 222.7 L1352.7 222.3 L1354.2 221.9 L1355.7 221.5 L1357.2 221.1 L1358.6 220.7 L1360.1 220.3 L1361.6 220.0 L1363.1 219.6 L1364.6 219.3 L1366.1 219.0 L1367.5 218.7 L1369.0 218.3 L1370.5 218.0 L1372.0 217.8 L1373.5 217.5 L1375.0 217.2 L1376.5 216.9 L1377.9 216.7 L1379.4 216.4 L1380.9 216.2 L1382.4 215.9 L1383.9 215.7 L1385.4 215.4 L1386.9 215.2 L1388.4 215.0 L1389.8 214.8 L1391.3 214.6 L1392.8 214.4 L1394.3 214.2 L1395.8 214.0 L1397.3 213.8 L1398.8 213.6 L1400.3 213.5 L1401.8 213.3 L1403.2 213.1 L1404.7 213.0 L1406.2 212.8 L1407.7 212.6 L1409.2 212.5 L1410.7 212.3 L1412.2 212.2 L1413.7 212.0 L1415.2 211.9 L1416.7 211.8 L1418.2 211.6 L1419.7 211.5 L1421.2 211.4 L1422.7 211.2 L1424.2 211.1 L1425.7 211.0 L1427.2 210.8 L1428.7 210.7 L1430.2 210.6 L1431.7 210.4 L1433.2 210.3 L1434.7 210.2 L1436.2 210.0 L1437.7 209.9 L1439.2 209.8 L1440.7 209.6 L1442.2 209.5 L1443.7 209.4 L1445.2 209.2 L1446.7 209.1 L1448.2 208.9 L1449.8 208.8 L1451.3 208.6 L1452.8 208.5 L1452.8 210.0 L1452.7 211.5 L1452.7 213.0 L1452.6 214.5 L1452.6 216.0 L1452.5 217.5 L1452.5 219.0 L1452.4 220.5 L1452.4 222.1 L1452.3 223.6 L1452.3 225.1 L1452.2 226.6 L1452.2 228.1 L1452.1 229.6 L1452.1 231.1 L1452.0 232.6 L1451.9 234.1 L1451.9 235.6 L1451.8 237.1 L1451.7 238.6 L1451.7 240.2 L1451.6 241.7 L1451.5 243.2 L1451.5 244.7 L1451.4 246.2 L1451.3 247.7 L1451.3 249.2 L1451.2 250.7 L1451.1 252.2 L1451.0 253.7 L1450.9 255.3 L1450.9 256.8 L1450.8 258.3 L1450.7 259.8 L1450.6 261.3 L1450.5 262.8 L1450.5 264.3 L1450.4 265.8 L1450.3 267.3 L1450.2 268.9 L1450.1 270.4 L1450.0 271.9 L1449.9 273.4 L1449.8 274.9 L1449.7 276.4 L1449.6 277.9 L1449.6 279.4 L1449.5 280.9 L1449.4 282.5 L1449.3 284.0 L1449.2 285.5 L1449.1 287.0 L1449.0 288.5 L1448.9 290.0 L1448.8 291.5 L1448.7 293.0 L1448.6 294.5 L1448.5 296.1 L1448.3 297.6 L1448.2 299.1 L1448.1 300.6 L1448.0 302.1 L1447.9 303.6 L1447.8 305.1 L1447.7 306.6 L1447.6 308.1 L1447.5 309.7 L1447.4 311.2 L1447.3 312.7 L1447.1 314.2 L1447.0 315.7 L1446.9 317.2 L1446.8 318.7 L1446.7 320.2 L1446.6 321.7 L1446.4 323.3 L1446.3 324.8 L1446.2 326.3 L1446.1 327.8 L1446.0 329.3 L1445.9 330.8 L1445.7 332.3 L1445.6 333.8 L1445.5 335.3 L1445.4 336.8 L1445.2 338.3 L1445.1 339.9 L1445.0 341.4 L1444.9 342.9 L1444.7 344.4 L1444.6 345.9 L1444.5 347.4 L1444.4 348.9 L1444.2 350.4 L1444.1 351.9 L1444.0 353.4 L1443.9 354.9 L1443.7 356.4 L1443.6 357.9 L1443.5 359.4 L1443.4 361.0 L1443.2 362.5 L1443.1 364.0 L1443.0 365.5 L1442.8 367.0 L1442.7 368.5 L1442.6 370.0 L1442.4 371.5 L1442.3 373.0 L1442.2 374.5 L1442.0 376.0 L1441.9 377.5 L1441.8 379.0 L1441.6 380.5 L1441.5 382.0 L1441.4 383.5 L1441.3 385.0 L1441.1 386.5 L1441.0 388.0 L1440.9 389.5 L1440.7 391.0 L1440.6 392.5 L1440.5 394.0 L1440.3 395.5 L1440.2 397.0 L1440.0 398.5 L1439.9 400.0 L1439.8 401.5 L1439.6 403.0 L1439.5 404.5 L1439.4 406.0 L1439.2 407.5 L1439.1 409.0 L1438.9 410.5 L1438.8 412.0 L1438.6 413.5 L1438.5 414.9 L1438.3 416.4 L1438.2 417.9 L1438.0 419.4 L1437.8 420.9 L1437.6 422.4 L1437.4 423.9 L1437.2 425.4 L1437.0 426.9 L1436.8 428.4 L1436.5 429.9 L1436.3 431.4 L1436.1 432.9 L1435.8 434.4 L1435.5 435.9 L1435.2 437.3 L1434.9 438.8 L1434.6 440.3 L1434.3 441.8 L1434.0 443.3 L1433.6 444.8 L1433.3 446.3 L1432.9 447.8 L1432.5 449.3 L1432.1 450.8 L1431.6 452.3 L1431.2 453.8 L1430.7 455.2 L1430.2 456.7 L1429.7 458.2 L1429.2 459.6 L1428.6 461.1 L1428.1 462.5 L1427.5 463.9 L1426.8 465.3 L1426.2 466.7 L1425.5 468.0 L1424.8 469.4 L1424.1 470.7 L1423.3 472.0 L1422.6 473.2 L1421.7 474.5 L1420.9 475.7 L1420.0 476.8 L1419.1 478.0 L1418.2 479.1 L1417.2 480.1 L1416.2 481.2 L1415.1 482.1 L1414.0 483.1 L1412.9 484.0 L1411.7 484.9 L1410.5 485.7 L1409.3 486.4 L1408.0 487.1 L1406.7 487.8 L1405.3 488.4 L1403.9 489.0 L1402.5 489.5 L1401.0 489.9 L1399.5 490.3 L1398.0 490.7 L1396.4 491.0 L1394.9 491.3 L1393.3 491.6 L1391.7 491.8 L1390.1 492.0 L1388.5 492.1 L1387.0 492.3 L1385.4 492.4 L1383.9 492.5 L1382.3 492.6 L1380.8 492.7 L1379.3 492.7 L1377.8 492.8 L1376.4 492.8 L1374.9 492.8 L1373.4 492.9 L1372.0 492.9 L1370.5 492.9 L1369.0 493.0 L1367.6 493.0 L1366.1 493.1 L1364.6 493.2 L1363.1 493.3 L1361.5 493.4 L1360.0 493.5 L1269.0 496.1 L1130.0 499.7 L1023.9 502.4 L1024.1 500.9 L1024.2 499.4 L1024.4 497.9 L1024.6 496.4 L1024.7 494.9 L1024.9 493.3 L1025.0 491.8 L1025.2 490.3 L1025.3 488.8 L1025.5 487.2 L1025.7 485.7 L1025.9 484.2 L1026.1 482.7 L1026.3 481.2 L1026.5 479.6 L1026.8 478.1 L1027.1 476.6 L1027.3 475.2 L1027.7 473.7 L1028.0 472.2 L1028.4 470.7 L1028.8 469.3 L1029.2 467.8 L1029.7 466.4 L1030.2 465.0 L1030.7 463.6 L1031.3 462.2 L1032.0 460.8 L1032.6 459.5 L1033.3 458.1 L1034.0 456.8 L1034.7 455.5 L1035.5 454.1 L1036.2 452.8 L1036.9 451.5 L1037.7 450.2 L1038.4 448.8 L1039.2 447.5 L1039.9 446.2 L1040.7 444.9 L1041.5 443.5 L1042.2 442.2 L1043.0 440.9 L1043.8 439.6 L1044.6 438.3 L1045.4 437.0 L1046.2 435.7 L1047.0 434.4 L1047.9 433.1 L1048.7 431.9 L1049.6 430.7 L1050.5 429.4 L1051.5 428.2 L1052.4 427.0 L1053.4 425.9 L1054.4 424.7 L1055.5 423.6 L1056.5 422.5 L1057.6 421.5 L1058.8 420.4 L1059.9 419.4 L1061.1 418.4 L1062.3 417.5 L1063.5 416.6 L1064.7 415.7 L1066.0 414.8 L1067.2 414.0 L1068.5 413.2 L1069.8 412.5 L1071.2 411.8 L1072.5 411.1 L1073.9 410.5 L1075.3 409.9 L1076.7 409.4 L1078.2 408.9 L1079.6 408.4 L1081.1 408.0 L1082.6 407.7 L1084.1 407.4 L1085.6 407.1 L1087.1 406.9 L1088.6 406.6 L1090.2 406.5 L1091.7 406.3 L1093.3 406.2 L1094.8 406.1 L1096.3 406.0 L1097.9 405.9 L1099.4 405.9 L1101.0 405.8 L1102.5 405.8 L1104.0 405.7 L1105.5 405.7 L1107.0 405.6 L1108.5 405.6 L1110.0 405.5 L1140.0 405.1 L1270.0 402.8 L1400.0 400.4 L1453.6 398.9 L1453.4 400.6 L1453.0 402.2 L1452.6 403.7 L1452.0 405.1 L1451.3 406.5 L1450.5 407.7 L1449.6 408.8 L1448.6 409.8 L1447.5 410.8 L1446.4 411.7 L1445.1 412.5 L1443.8 413.2 L1442.5 413.9 L1441.1 414.5 L1439.7 415.0 L1438.2 415.5 L1436.7 415.9 L1435.2 416.3 L1433.7 416.6 L1432.1 416.9 L1430.6 417.1 L1429.0 417.3 L1427.4 417.5 L1425.8 417.6 L1424.2 417.7 L1422.6 417.8 L1421.0 417.9 L1419.4 417.9 L1417.8 418.0 L1416.2 418.0 L1414.6 418.0 L1413.1 418.0 L1411.5 417.9 L1409.9 417.9 L1408.4 417.9 L1406.8 417.9 L1405.3 417.9 L1403.8 417.9 L1402.4 418.0 L1400.9 418.0 L1399.5 418.1 L1398.1 418.2 L1238.6 418.0 L1022.9 417.8 L1022.9 418.9" fill="none" stroke="#e15a10" stroke-width="2.5" stroke-linejoin="round" stroke-dasharray="9.6 4.1" stroke-dashoffset="0.0"/>
<path d="M1022.9 418.9 L1238.6 418.7" fill="none" stroke="#e15a10" stroke-width="2.5" stroke-linejoin="round" stroke-dasharray="9.6 4.1" stroke-dashoffset="1955.9"/>
<rect x="1154.2" y="39.4" width="394.1" height="81.9" fill="#fff" fill-opacity="0.8" stroke="#d4d4d4" stroke-width="2"/>
<path d="M1164.5 60.3H1214.8" stroke="#ee996f" stroke-width="3.9" stroke-linecap="square" fill="none"/>
<path d="M1164.5 97.8H1214.8" stroke="#e15a10" stroke-width="3.9" stroke-dasharray="15.5 7.1" fill="none"/>
<text x="1234.8" y="69.2" font-size="25.00">IncDr, Forward-Euler</text>
<text x="1234.8" y="106.4" font-size="25.00">numgeo, Forward-Euler</text>
<text x="1239.3" y="681.2" text-anchor="middle" class="nk">Vertical strain, <tspan font-family="'DejaVu Sans','Liberation Sans',sans-serif" font-style="italic">ε</tspan><tspan font-family="'DejaVu Sans','Liberation Sans',sans-serif" font-size="21.0" dy="4.9">1</tspan><tspan dy="-4.9" dx="0.9"> in %</tspan></text>
<text transform="translate(810.5 319.8) rotate(-90)" text-anchor="middle">Deviatoric stress, q in kPa</text>
</svg>
</body>
</html>
